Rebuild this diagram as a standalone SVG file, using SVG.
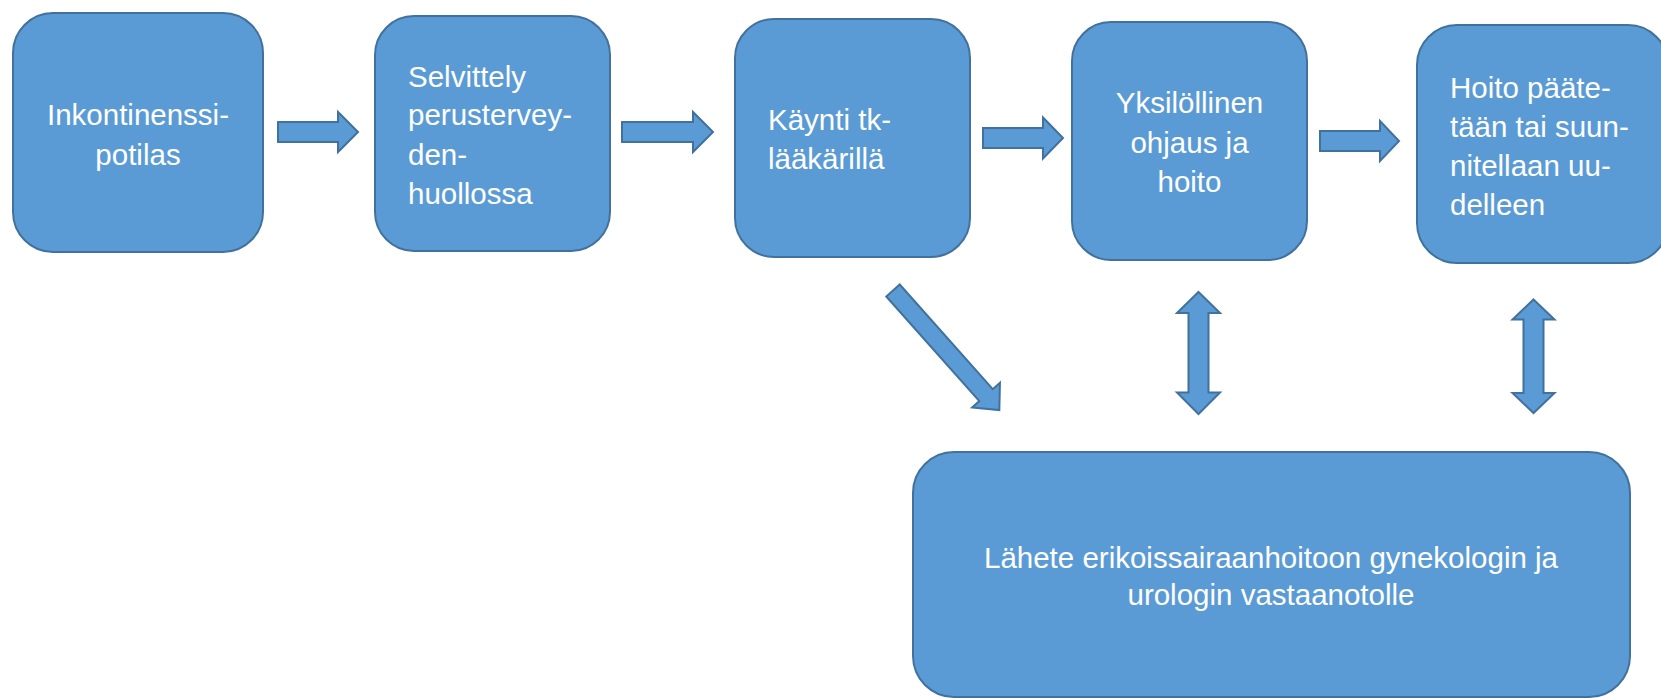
<svg xmlns="http://www.w3.org/2000/svg" width="1661" height="698" viewBox="0 0 1661 698">
<style>
.box{fill:#5B9BD5;stroke:#41719C;stroke-width:2}
.arr{fill:#5B9BD5;stroke:#41719C;stroke-width:2;stroke-linejoin:miter}
.t{font-family:"Liberation Sans",Arial,sans-serif;font-size:29.5px;fill:#FFFFFF}
.c{text-anchor:middle}
</style>
<rect width="1661" height="698" fill="#FFFFFF"/>
<g id="connectors">
<path class="arr" d="M278,122 H338 V112 L358,132 L338,152 V142 H278 Z"/>
<path class="arr" d="M622,122 H693 V112 L713,132 L693,152 V142 H622 Z"/>
<path class="arr" d="M983,128 H1043 V117.5 L1063,138 L1043,158.5 V148 H983 Z"/>
<path class="arr" d="M1320,131 H1380 V121 L1399,141 L1380,161 V151 H1320 Z"/>
<path class="arr" transform="translate(893,290.5) rotate(48.35)" d="M0,-9 L140,-9 L140,-18.6 L160,0 L140,18.6 L140,9 L0,9 Z"/>
<path class="arr" d="M1198.5,292 L1220,313 L1208.5,313 L1208.5,392.5 L1220,392.5 L1198.5,414 L1177,392.5 L1188.5,392.5 L1188.5,313 L1177,313 Z"/>
<path class="arr" d="M1533.5,299.5 L1554.5,319.5 L1543.5,319.5 L1543.5,393 L1554.5,393 L1533.5,413 L1512.5,393 L1523.5,393 L1523.5,319.5 L1512.5,319.5 Z"/>
</g>
<g id="n1">
<rect class="box" x="13" y="13" width="250" height="239" rx="40" ry="40"/>
<text class="t c" x="138" y="125">Inkontinenssi-</text>
<text class="t c" x="138" y="165">potilas</text>
</g>
<g id="n2">
<rect class="box" x="375" y="16" width="235" height="235" rx="39" ry="39"/>
<text class="t" x="408" y="87">Selvittely</text>
<text class="t" x="408" y="125">perustervey-</text>
<text class="t" x="408" y="165">den-</text>
<text class="t" x="408" y="204">huollossa</text>
</g>
<g id="n3">
<rect class="box" x="735" y="19" width="235" height="238" rx="39" ry="39"/>
<text class="t" x="768" y="130">Käynti tk-</text>
<text class="t" x="768" y="169">lääkärillä</text>
</g>
<g id="n4">
<rect class="box" x="1072" y="22" width="235" height="238" rx="39" ry="39"/>
<text class="t c" x="1189.5" y="113">Yksilöllinen</text>
<text class="t c" x="1189.5" y="153">ohjaus ja</text>
<text class="t c" x="1189.5" y="192">hoito</text>
</g>
<g id="n5">
<rect class="box" x="1417" y="25" width="251" height="238" rx="40" ry="40"/>
<text class="t" x="1450" y="98">Hoito pääte-</text>
<text class="t" x="1450" y="137">tään tai suun-</text>
<text class="t" x="1450" y="176">nitellaan uu-</text>
<text class="t" x="1450" y="215">delleen</text>
</g>
<g id="n6">
<rect class="box" x="913" y="452" width="717" height="245" rx="41" ry="41"/>
<text class="t c" x="1271" y="568">Lähete erikoissairaanhoitoon gynekologin ja</text>
<text class="t c" x="1271" y="605">urologin vastaanotolle</text>
</g>
</svg>
